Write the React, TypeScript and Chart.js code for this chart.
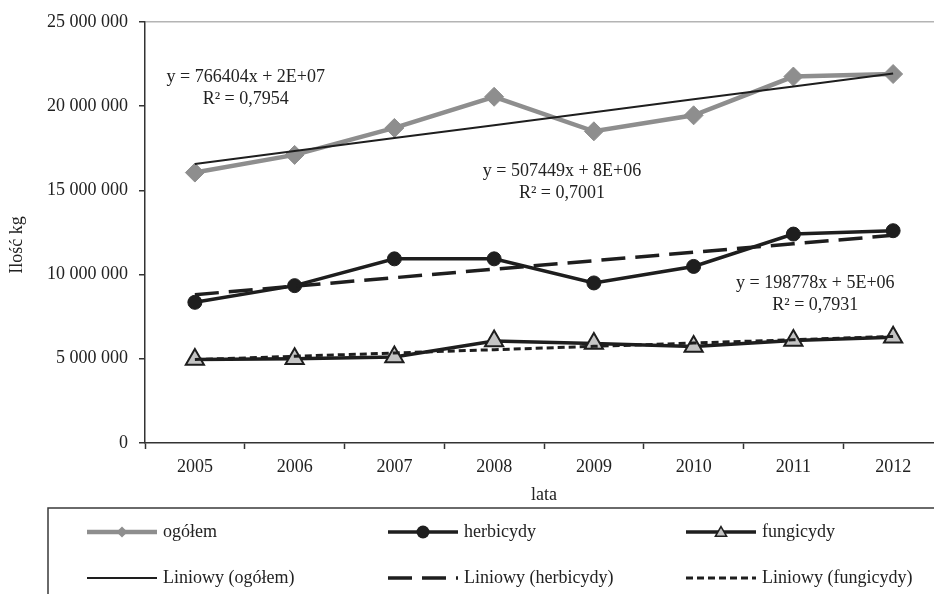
import React, { useEffect, useRef } from 'react';
import { Chart, registerables } from 'chart.js';

Chart.register(...registerables);

const FONT = "'Liberation Serif', 'Times New Roman', Times, serif";

const years = ['2005', '2006', '2007', '2008', '2009', '2010', '2011', '2012'];
const ogolem = [16.05e6, 17.1e6, 18.7e6, 20.55e6, 18.5e6, 19.45e6, 21.75e6, 21.9e6];
const herbicydy = [8.35e6, 9.34e6, 10.93e6, 10.93e6, 9.5e6, 10.48e6, 12.4e6, 12.6e6];
const fungicydy = [4.95e6, 5.0e6, 5.1e6, 6.05e6, 5.9e6, 5.73e6, 6.09e6, 6.28e6];

const yMin = 0;
const yMax = 25e6;
const yStep = 5e6;

const seriesNames = ['ogółem', 'herbicydy', 'fungicydy'];
const trendNames = ['Liniowy (ogółem)', 'Liniowy (herbicydy)', 'Liniowy (fungicydy)'];

const equationLines = [
  ['y = 766404x + 2E+07', 'R² = 0,7954'],
  ['y = 507449x + 8E+06', 'R² = 0,7001'],
  ['y = 198778x + 5E+06', 'R² = 0,7931'],
];
const equationAnchorIndex = [0.51, 3.68, 6.22];
const equationAnchorValue = [21.69e6, 16.13e6, 9.51e6];

const xTitle = 'lata';
const yTitle = 'Ilość kg';

function linearFit(values: number[]): number[] {
  const n = values.length;
  const xs = values.map((_, i) => i + 1);
  const mx = xs.reduce((a, b) => a + b, 0) / n;
  const my = values.reduce((a, b) => a + b, 0) / n;
  let sxy = 0;
  let sxx = 0;
  for (let i = 0; i < n; i++) {
    sxy += (xs[i] - mx) * (values[i] - my);
    sxx += (xs[i] - mx) * (xs[i] - mx);
  }
  const slope = sxy / sxx;
  const b = my - slope * mx;
  return xs.map((x) => slope * x + b);
}

function fmt(v: number): string {
  return Math.round(v).toString().replace(/\B(?=(\d{3})+(?!\d))/g, ' ');
}

const GRAY = '#8e8e8e';
const DARK = '#1e1e1e';
const TRI = '#c4c4c4';

function drawMarker(ctx: CanvasRenderingContext2D, style: string, x: number, y: number, r: number, fill: string, stroke: string, bw: number) {
  ctx.save();
  ctx.beginPath();
  if (style === 'rectRot') {
    ctx.moveTo(x, y - r);
    ctx.lineTo(x + r, y);
    ctx.lineTo(x, y + r);
    ctx.lineTo(x - r, y);
    ctx.closePath();
  } else if (style === 'circle') {
    ctx.arc(x, y, r, 0, Math.PI * 2);
  } else if (style === 'triangle') {
    ctx.moveTo(x, y - r);
    ctx.lineTo(x + r * Math.sin(Math.PI / 3), y + r / 2);
    ctx.lineTo(x - r * Math.sin(Math.PI / 3), y + r / 2);
    ctx.closePath();
  }
  ctx.fillStyle = fill;
  ctx.fill();
  if (bw > 0) {
    ctx.strokeStyle = stroke;
    ctx.lineWidth = bw;
    ctx.stroke();
  }
  ctx.restore();
}

const overlayPlugin = {
  id: 'overlay',
  afterDraw(chart: any) {
    const ctx: CanvasRenderingContext2D = chart.ctx;
    const xs = chart.scales.x;
    const ys = chart.scales.y;
    ctx.save();
    ctx.fillStyle = '#222';
    ctx.font = `18px ${FONT}`;
    ctx.textAlign = 'center';
    ctx.textBaseline = 'middle';

    // trendline equations
    for (let i = 0; i < equationLines.length; i++) {
      const px = xs.getPixelForValue(equationAnchorIndex[i]);
      const py = ys.getPixelForValue(equationAnchorValue[i]);
      equationLines[i].forEach((t, k) => ctx.fillText(t, px, py + k * 22));
    }

    // axis titles
    const ca = chart.chartArea;
    ctx.fillText(xTitle, (ca.left + ca.right) / 2, 495);
    ctx.save();
    ctx.translate(17, 245);
    ctx.rotate(-Math.PI / 2);
    ctx.fillText(yTitle, 0, 0);
    ctx.restore();

    // legend box
    ctx.strokeStyle = '#3a3a3a';
    ctx.lineWidth = 1.5;
    ctx.strokeRect(48, 508, 1000, 200);

    const cols = [87, 388, 686];
    const rows = [532, 578];
    const ds = chart.data.datasets;
    const legendMarker = [
      { style: 'rectRot', r: 5.5, fill: GRAY, stroke: GRAY, bw: 0 },
      { style: 'circle', r: 6.5, fill: DARK, stroke: DARK, bw: 0 },
      { style: 'triangle', r: 6.5, fill: TRI, stroke: DARK, bw: 1.5 },
    ];
    ctx.textAlign = 'left';
    for (let row = 0; row < 2; row++) {
      for (let c = 0; c < 3; c++) {
        const d = ds[row * 3 + c];
        const x0 = cols[c];
        const y0 = rows[row];
        ctx.save();
        ctx.strokeStyle = d.borderColor;
        ctx.lineWidth = d.borderWidth;
        ctx.setLineDash(d.borderDash || []);
        ctx.beginPath();
        ctx.moveTo(x0, y0);
        ctx.lineTo(x0 + 70, y0);
        ctx.stroke();
        ctx.restore();
        if (row === 0) {
          const m = legendMarker[c];
          drawMarker(ctx, m.style, x0 + 35, y0 + (m.style === 'triangle' ? 1 : 0), m.r, m.fill, m.stroke, m.bw);
        }
        ctx.fillStyle = '#222';
        ctx.fillText(d.label, x0 + 76, y0);
      }
    }
    ctx.restore();
  },
};

export default function App() {
  const ref = useRef<HTMLCanvasElement | null>(null);

  useEffect(() => {
    if (!ref.current) return;
    const trendO = linearFit(ogolem);
    const trendH = linearFit(herbicydy);
    const trendF = linearFit(fungicydy);

    const chart = new Chart(ref.current, {
      type: 'line',
      data: {
        labels: years,
        datasets: [
          {
            label: seriesNames[0],
            data: ogolem,
            borderColor: GRAY,
            backgroundColor: GRAY,
            borderWidth: 4.5,
            pointStyle: 'rectRot',
            pointRadius: 9.5,
            pointBackgroundColor: GRAY,
            pointBorderColor: GRAY,
            pointBorderWidth: 1,
            tension: 0,
            fill: false,
            order: 2,
          },
          {
            label: seriesNames[1],
            data: herbicydy,
            borderColor: DARK,
            backgroundColor: DARK,
            borderWidth: 3.5,
            pointStyle: 'circle',
            pointRadius: 7,
            pointBackgroundColor: DARK,
            pointBorderColor: DARK,
            pointBorderWidth: 1,
            tension: 0,
            fill: false,
            order: 2,
          },
          {
            label: seriesNames[2],
            data: fungicydy,
            borderColor: DARK,
            backgroundColor: TRI,
            borderWidth: 3.5,
            pointStyle: 'triangle',
            pointRadius: 10.5,
            pointBackgroundColor: TRI,
            pointBorderColor: DARK,
            pointBorderWidth: 2,
            tension: 0,
            fill: false,
            order: 2,
          },
          {
            label: trendNames[0],
            data: trendO,
            borderColor: DARK,
            borderWidth: 2,
            pointRadius: 0,
            tension: 0,
            fill: false,
            order: 1,
          },
          {
            label: trendNames[1],
            data: trendH,
            borderColor: DARK,
            borderWidth: 3.5,
            borderDash: [24, 10],
            pointRadius: 0,
            tension: 0,
            fill: false,
            order: 1,
          },
          {
            label: trendNames[2],
            data: trendF,
            borderColor: DARK,
            borderWidth: 3,
            borderDash: [7, 4],
            pointRadius: 0,
            tension: 0,
            fill: false,
            order: 1,
          },
        ],
      },
      options: {
        responsive: false,
        animation: false,
        devicePixelRatio: 1,
        layout: { padding: { top: 20, left: 0, right: 17, bottom: 0 } },
        plugins: {
          legend: { display: false },
          tooltip: { enabled: false },
        },
        scales: {
          x: {
            type: 'category',
            offset: true,
            grid: {
              offset: true,
              drawOnChartArea: false,
              drawTicks: true,
              tickLength: 6,
              tickColor: '#333',
              tickWidth: 1.5,
            },
            border: { color: '#333', width: 1.5 },
            ticks: {
              font: { family: FONT, size: 18 },
              color: '#222',
              padding: 7,
              maxRotation: 0,
              autoSkip: false,
            },
            afterFit: (s: any) => {
              s.height = 151;
            },
          },
          y: {
            min: yMin,
            max: yMax,
            ticks: {
              stepSize: yStep,
              font: { family: FONT, size: 18 },
              color: '#222',
              padding: 11,
              callback: (v: any) => fmt(Number(v)),
            },
            grid: {
              drawOnChartArea: true,
              drawTicks: true,
              tickLength: 6,
              tickColor: '#333',
              tickWidth: 1.5,
              lineWidth: 1.5,
              color: (c: any) => (c.tick && c.tick.value === yMax ? '#b4b4b4' : 'rgba(0,0,0,0)'),
            },
            border: { color: '#333', width: 1.5 },
            afterFit: (s: any) => {
              s.width = 145;
            },
          },
        },
      },
      plugins: [overlayPlugin],
    } as any);

    return () => chart.destroy();
  }, []);

  return (
    <div style={{ position: 'fixed', left: 0, top: 0, width: 960, height: 594, background: '#fff' }}>
      <canvas ref={ref} width={960} height={594} style={{ width: 960, height: 594, display: 'block' }} />
    </div>
  );
}
